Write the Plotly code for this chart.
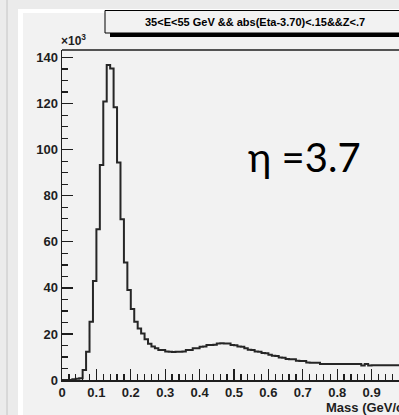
import plotly.graph_objects as go

# Invariant-mass histogram, 0.01 GeV bins starting at 0 (counts in units of 10^3)
bin_width = 0.01
counts_k = [
    0.0, 0.0, 0.0, 0.3, 0.5, 0.8, 4.3, 12.3, 25.3, 43.0,
    65.5, 93.4, 120.9, 136.8, 135.3, 118.4, 94.4, 69.8, 51.0, 39.1,
    30.8, 25.3, 22.4, 20.2, 17.7, 15.7, 14.5, 13.8, 13.0, 13.0,
    12.4, 12.3, 12.2, 12.3, 12.3, 12.4, 13.0, 13.0, 13.8, 13.8,
    14.4, 14.6, 15.2, 15.2, 15.3, 15.9, 16.0, 15.9, 15.9, 15.2,
    15.1, 14.5, 14.4, 13.8, 13.1, 13.0, 12.4, 12.3, 11.7, 11.6,
    11.0, 10.5, 10.4, 9.8, 9.7, 9.1, 9.0, 9.0, 8.4, 8.3,
    8.3, 7.6, 7.5, 7.5, 7.5, 7.0, 6.9, 6.9, 6.9, 6.9,
    6.9, 6.9, 6.9, 6.9, 6.9, 6.9, 6.9, 6.3, 6.9, 6.3,
    6.4, 6.4, 6.4, 6.4, 6.4, 6.4, 6.4, 6.4, 6.4, 6.4,
]
x_ticks = [0.0, 0.1, 0.2, 0.3, 0.4, 0.5, 0.6, 0.7, 0.8, 0.9]
y_ticks = [0, 20, 40, 60, 80, 100, 120, 140]

title_text = "35<E<55 GeV && abs(Eta-3.70)<.15&&Z<.7"
eta_label = "η =3.7"
x_title = "<b>Mass (GeV/c<sup>2</sup>)</b>"

# step outline: left edges plus a closing edge
edges = [round(i * bin_width, 4) for i in range(len(counts_k) + 1)]
step_y = counts_k + [counts_k[-1]]

W, H = 399, 415
L, T, B, R = 62, 50, 35, 0
PW, PH = W - L - R, H - T - B
x_max = PW / 344.0   # 0.1 GeV spans ~34.4 px
y_max = 143.3


def px_x(p):
    return (p - L) / PW


def px_y(p):
    return 1 - (p - T) / PH


fig = go.Figure()
fig.add_trace(go.Scatter(
    x=edges, y=step_y, mode="lines", line_shape="hv",
    line=dict(color="#262626", width=2), hoverinfo="skip", showlegend=False,
))

axis_font = dict(family="Liberation Sans, Arial, sans-serif", size=13, color="#1e1e1e")

fig.update_xaxes(
    range=[0, x_max], tickvals=x_ticks, ticktext=[f"<b>{v:g}</b>" for v in x_ticks],
    ticks="inside", ticklen=11, tickwidth=1.3, tickcolor="#1e1e1e",
    minor=dict(dtick=0.02, tick0=0, ticks="inside", ticklen=6, tickwidth=1.3, tickcolor="#1e1e1e"),
    showline=True, linecolor="#1e1e1e", linewidth=1.5, mirror=False,
    showgrid=False, zeroline=False, tickfont=axis_font,
    automargin=False,
)
fig.update_yaxes(
    range=[0, y_max], tickvals=y_ticks, ticktext=[f"<b>{v}</b>" for v in y_ticks],
    ticks="inside", ticklen=11, tickwidth=1.3, tickcolor="#1e1e1e",
    minor=dict(dtick=5, tick0=0, ticks="inside", ticklen=6, tickwidth=1.3, tickcolor="#1e1e1e"),
    showline=True, linecolor="#1e1e1e", linewidth=1.5, mirror=False,
    showgrid=False, zeroline=False, tickfont=axis_font,
    automargin=False,
)

shapes = [
    # outer grey surround and white canvas border
    dict(type="rect", xref="paper", yref="paper", x0=px_x(0), x1=px_x(18), y0=px_y(H), y1=px_y(0),
         fillcolor="#ebebeb", line_width=0, layer="below"),
    dict(type="rect", xref="paper", yref="paper", x0=px_x(0), x1=px_x(W), y0=px_y(9), y1=px_y(0),
         fillcolor="#ebebeb", line_width=0, layer="below"),
    dict(type="line", xref="paper", yref="paper", x0=px_x(7), x1=px_x(7), y0=px_y(H), y1=px_y(0),
         line=dict(color="#c4c4c4", width=1), layer="below"),
    dict(type="rect", xref="paper", yref="paper", x0=px_x(18), x1=px_x(23), y0=px_y(H), y1=px_y(9),
         fillcolor="#ffffff", line_width=0, layer="below"),
    dict(type="rect", xref="paper", yref="paper", x0=px_x(18), x1=px_x(W), y0=px_y(13), y1=px_y(9),
         fillcolor="#ffffff", line_width=0, layer="below"),
    # top edge of the frame
    dict(type="line", xref="paper", yref="paper", x0=0, x1=1, y0=1, y1=1,
         line=dict(color="#1e1e1e", width=1.5)),
    # title box with drop shadow (continues past the right edge)
    dict(type="rect", xref="paper", yref="paper", x0=px_x(110), x1=px_x(W + 10), y0=px_y(37), y1=px_y(14),
         fillcolor="#000000", line_width=0),
    dict(type="rect", xref="paper", yref="paper", x0=px_x(105), x1=px_x(W + 6), y0=px_y(33), y1=px_y(10.5),
         fillcolor="#f2f2f2", line=dict(color="#000000", width=1)),
]

annotations = [
    dict(text=f"<b>{title_text.replace('<', '&lt;')}</b>", xref="paper", yref="paper",
         x=px_x(255), y=px_y(22), xanchor="center", yanchor="middle", showarrow=False,
         font=dict(family="Liberation Sans, Arial, sans-serif", size=11, color="#000")),
    dict(text="<b>×10<sup>3</sup></b>", xref="paper", yref="paper", x=px_x(59), y=px_y(50),
         xanchor="left", yanchor="bottom", showarrow=False,
         font=dict(family="Liberation Sans, Arial, sans-serif", size=12, color="#1e1e1e")),
    dict(text=eta_label, xref="paper", yref="paper", x=px_x(304), y=px_y(157),
         xanchor="center", yanchor="middle", showarrow=False,
         font=dict(family="Lato", size=40, color="#000")),
    dict(text=x_title, xref="paper", yref="paper", x=px_x(324), y=px_y(407),
         xanchor="left", yanchor="middle", showarrow=False,
         font=dict(family="Liberation Sans, Arial, sans-serif", size=13, color="#1e1e1e")),
]

fig.update_layout(
    width=W, height=H,
    margin=dict(l=L, r=R, t=T, b=B, pad=0),
    paper_bgcolor="#f2f2f2", plot_bgcolor="#f2f2f2",
    shapes=shapes, annotations=annotations,
    showlegend=False,
)

fig.write_html("out.html", config={"displayModeBar": False, "staticPlot": True})
